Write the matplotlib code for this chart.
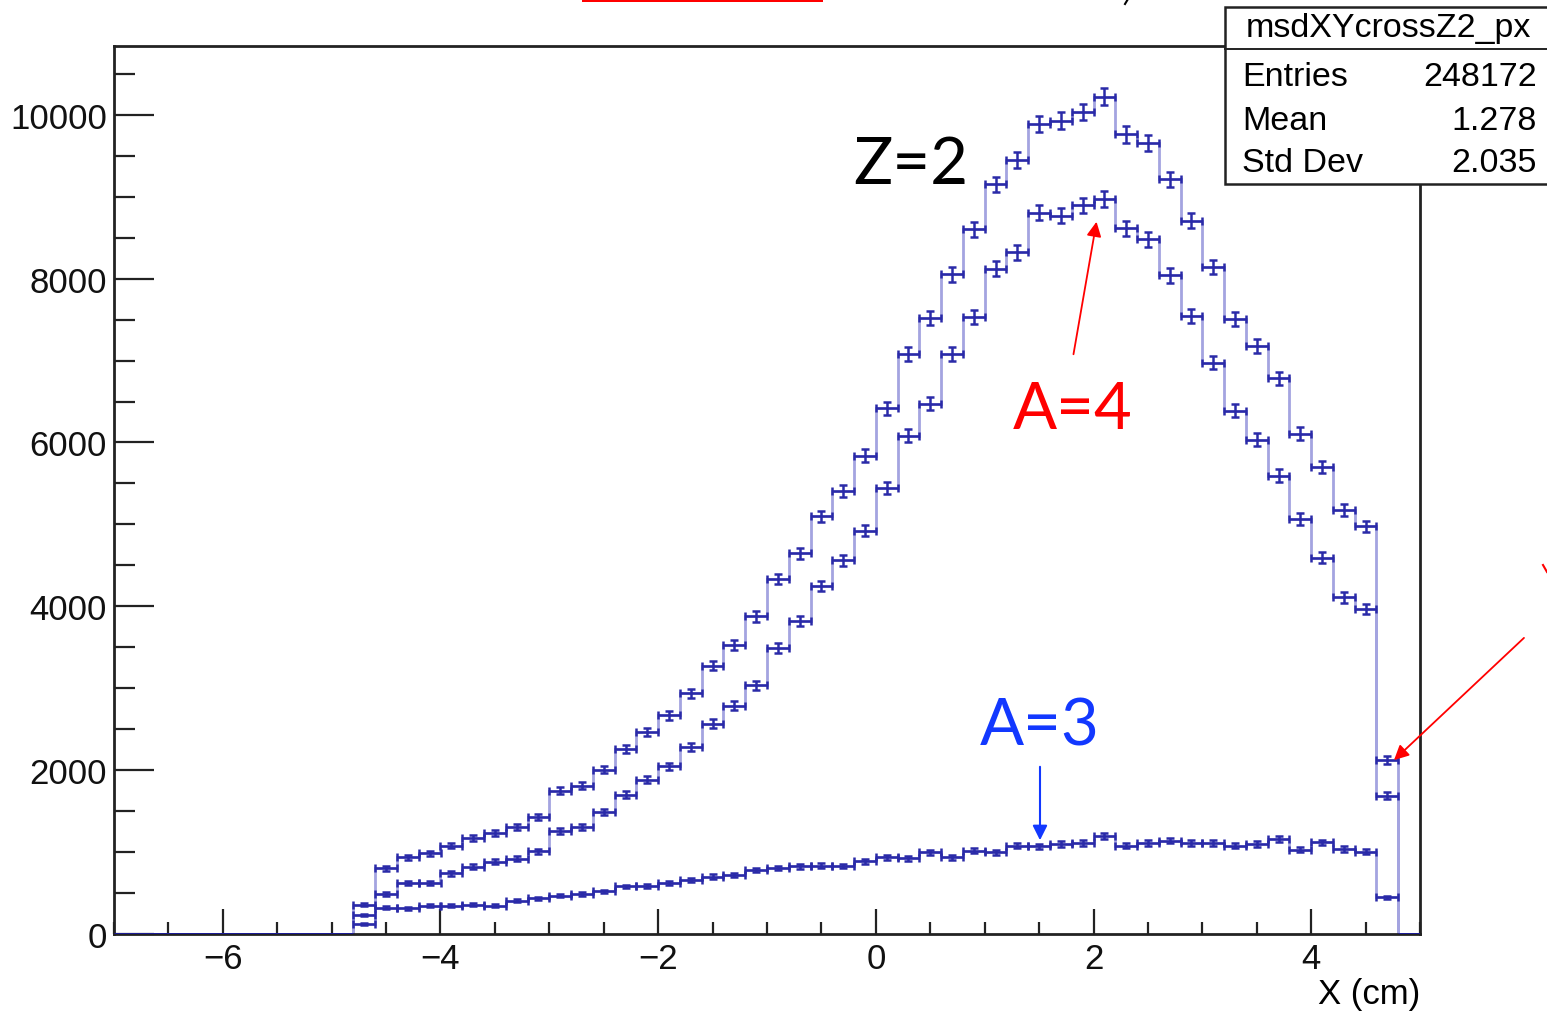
import numpy as np
import matplotlib
matplotlib.use("Agg")
import matplotlib.pyplot as plt
from matplotlib.patches import Rectangle
from matplotlib.lines import Line2D
from matplotlib.ticker import MultipleLocator

# ---------------- data ----------------
x_min, x_max, bin_width = -7.0, 5.0, 0.2
first_filled_edge = -4.8

z2_counts = [355, 800, 936, 985, 1080, 1172, 1229, 1310, 1424, 1750,
             1811, 2005, 2260, 2468, 2669, 2939, 3275, 3529, 3877, 4334,
             4648, 5098, 5411, 5839, 6420, 7076, 7524, 8054, 8602, 9150,
             9443, 9891, 9929, 10034, 10221, 9760, 9661, 9211, 8707, 8142,
             7504, 7176, 6782, 6107, 5700, 5178, 4975, 2125]
a4_counts = [230, 485, 623, 623, 741, 822, 883, 916, 1009, 1262,
             1310, 1490, 1700, 1884, 2045, 2285, 2569, 2786, 3039, 3493,
             3820, 4248, 4562, 4923, 5440, 6081, 6471, 7076, 7530, 8122,
             8321, 8807, 8770, 8895, 8975, 8615, 8482, 8039, 7541, 6976,
             6387, 6034, 5597, 5062, 4595, 4109, 3968, 1687]
a3_counts = [125, 320, 313, 346, 346, 358, 346, 407, 436, 468,
             488, 520, 580, 590, 619, 660, 700, 720, 780, 805,
             826, 835, 830, 890, 936, 924, 997, 936, 1017, 997,
             1078, 1070, 1099, 1110, 1193, 1078, 1111, 1140, 1111, 1111,
             1078, 1099, 1160, 1030, 1119, 1038, 1005, 448]

x_ticks = [-6, -4, -2, 0, 2, 4]
y_ticks = [0, 2000, 4000, 6000, 8000, 10000]
y_top = 10840
x_label = "X (cm)"

stats_title = "msdXYcrossZ2_px"
stats_labels = ["Entries", "Mean", "Std Dev"]
stats_values = ["248172", "1.278", "2.035"]

# ---------------- styling ----------------
W, H = 1547, 1012
DPI = 100
step_col = "#a4a4e0"
err_col = "#2a2aa8"
tick_font = "Liberation Sans"
note_font = "Lato"

plt.rcParams["font.family"] = [tick_font, "DejaVu Sans"]

fig = plt.figure(figsize=(W / DPI, H / DPI), dpi=DPI)
ax = fig.add_axes([114 / W, 1 - 935 / H, (1420 - 114) / W, (935 - 47) / H])


def fx(px):
    return px / W


def fy(py):
    return 1 - py / H


n_bins = int(round((x_max - x_min) / bin_width))
edges = np.linspace(x_min, x_max, n_bins + 1)
offset = int(round((first_filled_edge - x_min) / bin_width))

for counts in (a3_counts, a4_counts, z2_counts):
    counts = np.asarray(counts, dtype=float)
    full = np.zeros(n_bins)
    full[offset:offset + len(counts)] = counts
    ax.stairs(full, edges, baseline=0, color=step_col, lw=2.0, zorder=2)
    centers = edges[offset:offset + len(counts)] + bin_width / 2
    ax.errorbar(centers, counts, xerr=bin_width / 2, yerr=np.sqrt(counts),
                fmt="none", ecolor=err_col, elinewidth=1.8, capsize=2.8,
                capthick=1.8, zorder=3)

# bottom line of the empty bins (dark)
ax.plot([x_min, first_filled_edge], [0, 0], color="#1a1aa0", lw=2, zorder=4,
        solid_capstyle="butt")
ax.plot([edges[offset + len(z2_counts)], x_max], [0, 0], color="#1a1aa0", lw=2,
        zorder=4, solid_capstyle="butt")

ax.set_xlim(x_min, x_max)
ax.set_ylim(0, y_top)
ax.set_xticks(x_ticks)
ax.set_yticks(y_ticks)
ax.xaxis.set_minor_locator(MultipleLocator(0.5))
ax.yaxis.set_minor_locator(MultipleLocator(500))
ax.tick_params(axis="both", which="both", direction="in", top=False, right=False,
               width=1.6, colors="#222222", labelcolor="#111111")
ax.tick_params(axis="y", which="major", length=29, labelsize=25, pad=5)
ax.tick_params(axis="y", which="minor", length=15)
ax.tick_params(axis="x", which="major", length=18, labelsize=25, pad=6)
ax.tick_params(axis="x", which="minor", length=9)
for s in ax.spines.values():
    s.set_linewidth(2)
    s.set_color("#222222")
ax.set_yticklabels([str(v) for v in y_ticks])

fig.text(fx(1420), fy(995), x_label, ha="right", va="center", fontsize=25)

# ---------------- stats box ----------------
box_l, box_t, box_b, box_r = 1225, 8, 185, 1560
fig.patches.append(Rectangle((fx(box_l), fy(box_b)), fx(box_r - box_l), (box_b - box_t) / H,
                             transform=fig.transFigure, facecolor="white",
                             edgecolor="#222222", lw=1.8, zorder=10))
fig.lines.append(Line2D([fx(box_l), fx(box_r)], [fy(50), fy(50)], transform=fig.transFigure,
                        color="#222222", lw=1.4, zorder=11))
fig.text(fx(1388), fy(29), stats_title, ha="center", va="center", fontsize=24.5, zorder=12)
for i, (lab, val) in enumerate(zip(stats_labels, stats_values)):
    yy = 78 + i * 43
    fig.text(fx(1242), fy(yy), lab, ha="left", va="center", fontsize=24.5, zorder=12)
    fig.text(fx(1537), fy(yy), val, ha="right", va="center", fontsize=24.5, zorder=12)

# ---------------- annotations ----------------
fig.text(fx(853), fy(166), "Z=2", ha="left", va="center", fontsize=47,
         family=note_font, color="black")
fig.text(fx(1013), fy(411), "A=4", ha="left", va="center", fontsize=47,
         family=note_font, color="#ff0000")
fig.text(fx(980), fy(727), "A=3", ha="left", va="center", fontsize=47,
         family=note_font, color="#1238ff")

fig.add_artist(matplotlib.patches.FancyArrowPatch(
    (fx(1073), fy(358)), (fx(1097), fy(220)), transform=fig.transFigure,
    arrowstyle="-|>", mutation_scale=22, color="#ff0000", lw=1.3))
fig.add_artist(matplotlib.patches.FancyArrowPatch(
    (fx(1040), fy(765)), (fx(1040), fy(844)), transform=fig.transFigure,
    arrowstyle="-|>", mutation_scale=22, color="#1238ff", lw=1.5))
fig.add_artist(matplotlib.patches.FancyArrowPatch(
    (fx(1526), fy(637)), (fx(1392), fy(763)), transform=fig.transFigure,
    arrowstyle="-|>", mutation_scale=22, color="#ff0000", lw=1.3))
fig.lines.append(Line2D([fx(1543), fx(1547)], [fy(566), fy(573)], transform=fig.transFigure,
                        color="#ff0000", lw=1.5))

# cut-off slide elements at the top edge
fig.patches.append(Rectangle((fx(582), fy(3)), fx(823 - 582), 3 / H, transform=fig.transFigure,
                             facecolor="#ff0000", edgecolor="none"))
fig.lines.append(Line2D([fx(1128), fx(1125)], [fy(0), fy(5)], transform=fig.transFigure,
                        color="black", lw=1.5))

fig.savefig("out.png", dpi=DPI)
